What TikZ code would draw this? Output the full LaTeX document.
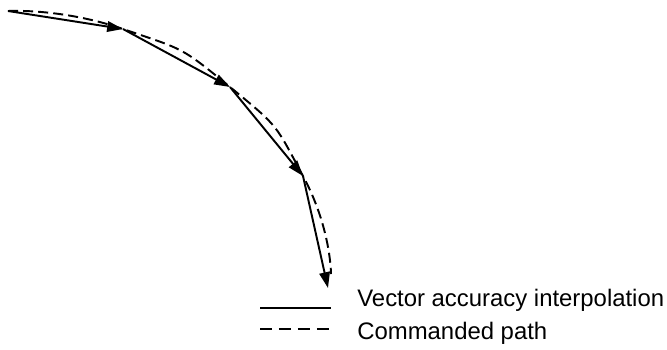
\documentclass[tikz,border=0pt]{standalone}
\usepackage{fontspec}
\setmainfont{Liberation Sans}
\usepackage{tikz}
\usetikzlibrary{arrows.meta,positioning}

\tikzset{
    vecline/.style={line width=1.1pt, -{Triangle[length=9pt,width=6pt]}},
    cmdpath/.style={line width=1.1pt, dash pattern=on 5.7pt off 2.9pt},
    legtext/.style={anchor=base west, inner sep=0pt, font=\fontsize{13.6}{16}\selectfont}
}

\begin{document}
\begin{tikzpicture}[x=0.02cm, y=-0.02cm]
            \useasboundingbox (0,0) rectangle (667,349);
            \coordinate (p0) at (8,11);
            \coordinate (p1) at (123,29);
            \coordinate (p2) at (230,87);
            \coordinate (p3) at (303,176);
            \coordinate (p4) at (328,288);
            \coordinate (c4) at (331,274);
            \draw[cmdpath] plot[smooth, tension=1] coordinates {(p0) (p1) (p2) (p3) (c4)};
            \foreach \a/\b in {p0/p1,p1/p2,p2/p3,p3/p4}{
                    \draw[vecline] (\a) -- (\b);
                }
            \coordinate (s0) at (260,308);
            \coordinate (s1) at (331,308);
            \coordinate (d0) at (260,329);
            \coordinate (d1) at (331,329);
            \draw[line width=1.1pt] (s0) -- (s1);
            \draw[line width=1.1pt, dash pattern=on 7.1pt off 3.7pt] (d0) -- (d1);
            \node[legtext] (lvec) at (357,306) {Vector accuracy interpolation};
            \node[legtext] (lcmd) at (357,339) {Commanded path};
        \end{tikzpicture}
\end{document}
